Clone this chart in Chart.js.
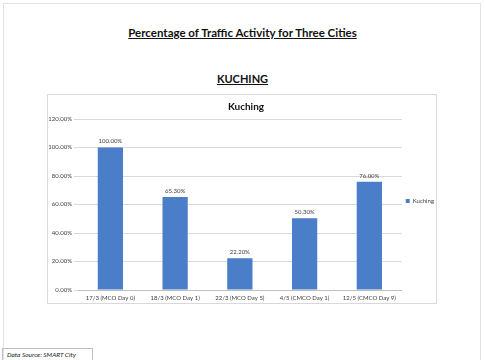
<!DOCTYPE html>
<html>
<head>
<meta charset="utf-8">
<script src="https://cdn.jsdelivr.net/npm/chart.js@4.4.1/dist/chart.umd.min.js"></script>
<style>
  html, body { margin: 0; padding: 0; background: #fff; }
  body { width: 485px; height: 360px; position: relative; overflow: hidden; font-family: Lato, "Open Sans", sans-serif; }
  #page { position: absolute; left: 3px; top: 3px; width: 478px; height: 370px; border: 1px solid #e2e2e6; box-sizing: border-box; }
  #ttl { position: absolute; top: 26px; left: 0; width: 485px; text-align: center; font-size: 11.5px; font-weight: bold; text-decoration: underline; color: #111; }
  #city { position: absolute; top: 72px; left: 0; width: 485px; text-align: center; font-size: 11px; font-weight: bold; text-decoration: underline; color: #111; }
  #box { position: absolute; left: 47px; top: 94px; width: 390px; height: 210px; border: 1px solid #d9d9d9; box-sizing: border-box; }
  #box canvas { position: absolute; left: 0; top: 0; }
  #src { position: absolute; left: 2px; top: 348px; width: 91px; height: 14px; border: 1px solid #bfbfbf; box-sizing: border-box; font-size: 6.5px; font-style: italic; color: #222; padding: 2px 0 0 4px; }
</style>
</head>
<body>
<div id="page"></div>
<div id="ttl">Percentage of Traffic Activity for Three Cities</div>
<div id="city">KUCHING</div>
<div id="box"><canvas id="ch" width="400" height="208"></canvas></div>
<div id="src">Data Source: SMART City</div>
<script>
// data
const CATS = ["17/3 (MCO Day 0)", "18/3 (MCO Day 1)", "22/3 (MCO Day 5)", "4/5 (CMCO Day 1)", "12/5 (CMCO Day 9)"];
const KUCHING = [100, 65.3, 22.2, 50.3, 76];
const Y_MAX = 120, Y_STEP = 20;

const FF = "Lato, 'Open Sans', sans-serif";

// value labels above bars
const barLbl = {
  id: "barLbl",
  afterDatasetsDraw(c) {
    const ctx = c.ctx, meta = c.getDatasetMeta(0);
    ctx.save();
    ctx.font = "6px " + FF; ctx.fillStyle = "#404040"; ctx.textAlign = "center"; ctx.textBaseline = "bottom";
    meta.data.forEach((b, i) => ctx.fillText(KUCHING[i].toFixed(2) + "%", b.x, b.y - 3));
    ctx.restore();
  }
};

new Chart(document.getElementById("ch"), {
  type: "bar",
  data: { labels: CATS, datasets: [
    { label: "Kuching", data: KUCHING, backgroundColor: "#4a7ec8", borderWidth: 0, categoryPercentage: 1, barPercentage: 0.39 }
  ] },
  options: {
    responsive: false, animation: false, devicePixelRatio: 1,
    layout: { padding: { left: 0, right: 4, top: 4, bottom: 0 } },
    plugins: {
      title: { display: true, text: "Kuching", color: "#111", font: { family: FF, size: 10, weight: "bold" }, padding: { top: 2, bottom: 6 } },
      legend: { position: "right", labels: { color: "#404040", boxWidth: 4, boxHeight: 4, padding: 4, font: { family: FF, size: 6 } } },
      tooltip: { enabled: false }
    },
    scales: {
      x: { grid: { display: false, drawTicks: false }, border: { color: "#bfbfbf" },
           ticks: { color: "#404040", font: { family: FF, size: 6 }, maxRotation: 0, autoSkip: false, padding: 4 },
           afterFit: s => { s.height = 13; } },
      y: { min: 0, max: Y_MAX, grid: { color: "#d9d9d9", tickLength: 4 }, border: { display: false },
           ticks: { stepSize: Y_STEP, color: "#404040", font: { family: FF, size: 6 }, padding: 2, callback: v => v.toFixed(2) + "%" },
           afterFit: s => { s.width = 30; } }
    }
  },
  plugins: [barLbl]
});
</script>
</body>
</html>
